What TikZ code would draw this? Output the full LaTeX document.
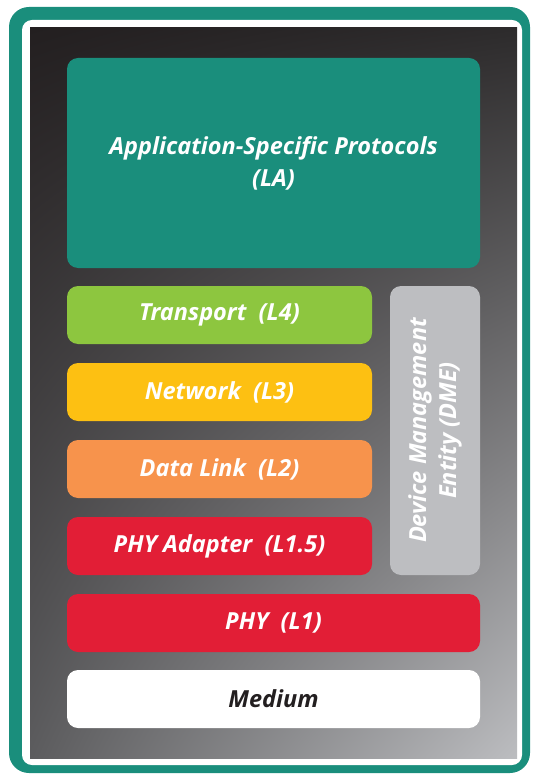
\documentclass[tikz,border=0pt]{standalone}
\usepackage{fontspec}
\setmainfont{Open Sans}
\usetikzlibrary{calc, positioning, shapes, shadings}
\definecolor{uteal}{RGB}{26,142,124}
\definecolor{ugreen}{RGB}{141,198,63}
\definecolor{uyellow}{RGB}{253,192,18}
\definecolor{uorange}{RGB}{247,147,76}
\definecolor{ured}{RGB}{226,30,54}
\definecolor{ugray}{RGB}{189,190,193}
\definecolor{uink}{RGB}{35,31,32}
\definecolor{bgtr}{RGB}{45,43,44}
\definecolor{bgbl}{RGB}{92,92,94}
\definecolor{bgbr}{RGB}{188,189,192}

\begin{document}
\begin{tikzpicture}[x=1pt,y=-1pt,
  layer/.style={rounded corners=11pt, minimum height=58pt, inner sep=0pt,
    text=white, align=center, font=\fontsize{23.5}{32}\selectfont\bfseries\itshape},
  wide/.style={layer, minimum width=413pt},
  half/.style={layer, minimum width=305pt}]
\useasboundingbox (0,0) rectangle (532,775);
% frame
\fill[uteal, rounded corners=20pt] (9,7) rectangle (530,773);
\fill[white, rounded corners=10pt] (22,20) rectangle (522,765);
\shade[upper left=uink, upper right=bgtr, lower left=bgbl, lower right=bgbr]
  (30,28) rectangle (517,758);
% stack
\node[wide, fill=uteal, minimum height=210pt] (la) at (273.5,163) {Application-Specific Protocols\\(LA)};
\node[half, fill=ugreen] (tl) at (219.5,315) {Transport\ \ (L4)};
\node[half, fill=uyellow] (nl) at (219.5,392) {Network\ \ (L3)};
\node[half, fill=uorange] (dl) at (219.5,469) {Data Link\ \ (L2)};
\node[half, fill=ured] (pa) at (219.5,546) {PHY Adapter\ \ (L1.5)};
\node[layer, fill=ugray, rotate=90, minimum width=289pt, minimum height=90pt,
  font=\fontsize{23.5}{30}\selectfont\bfseries\itshape] (dme) at (435,430.5) {Device Management\\Entity (DME)};
\node[wide, fill=ured] (phy) at (273.5,623) {PHY\ \ (L1)};
\node[wide, fill=white, text=uink] (med) at (273.5,699) {Medium};
\end{tikzpicture}
\end{document}
